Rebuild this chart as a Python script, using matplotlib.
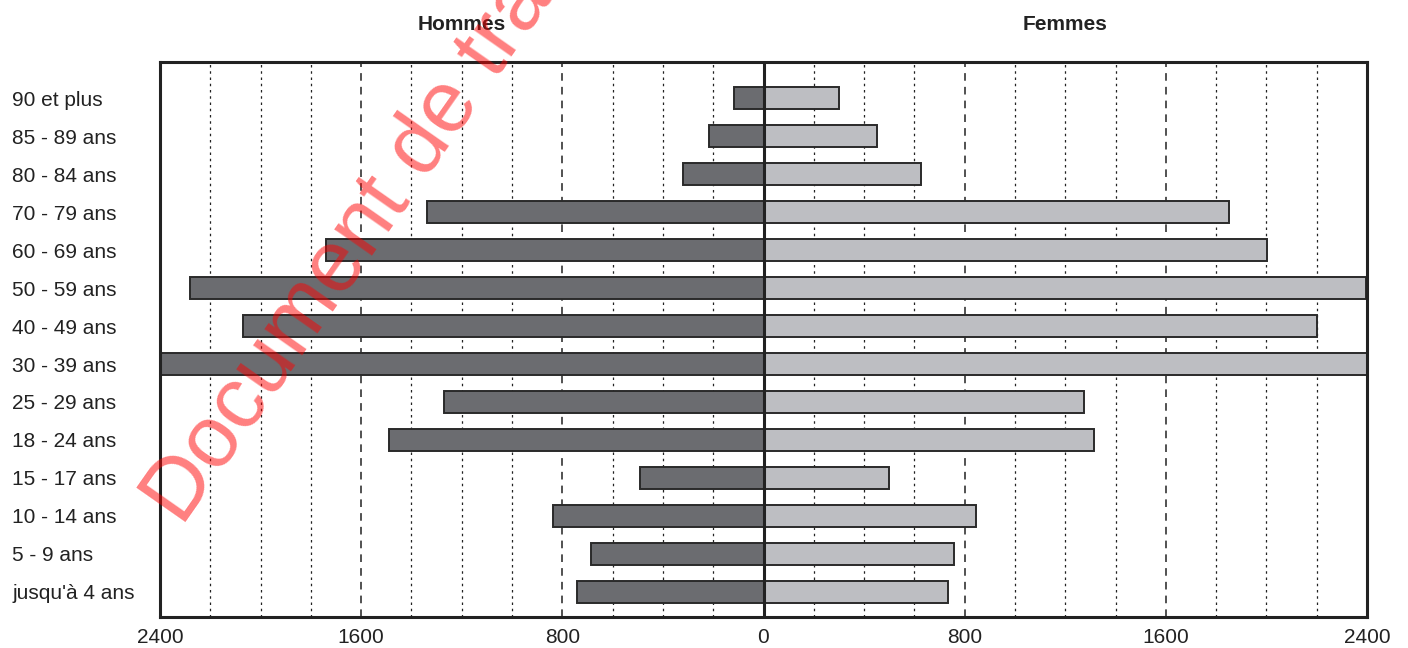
import matplotlib
matplotlib.use("Agg")
import matplotlib.pyplot as plt
import numpy as np

plt.rcParams["font.family"] = ["Liberation Sans", "DejaVu Sans"]

AGE_GROUPS = ["jusqu'à 4 ans", "5 - 9 ans", "10 - 14 ans", "15 - 17 ans", "18 - 24 ans",
              "25 - 29 ans", "30 - 39 ans", "40 - 49 ans", "50 - 59 ans", "60 - 69 ans",
              "70 - 79 ans", "80 - 84 ans", "85 - 89 ans", "90 et plus"]
HOMMES = [740, 685, 836, 490, 1490, 1270, 2396, 2070, 2280, 1740, 1340, 322, 215, 118]
FEMMES = [732, 756, 844, 501, 1313, 1274, 2404, 2202, 2396, 2002, 1851, 625, 450, 299]
X_TICKS = [-2400, -1600, -800, 0, 800, 1600, 2400]
X_TICK_LABELS = ["2400", "1600", "800", "0", "800", "1600", "2400"]
GRID_STEP = 200

fig = plt.figure(figsize=(14.08, 6.48), dpi=100)
ax = fig.add_axes([160 / 1408, 31 / 648, 1207 / 1408, 555 / 648])

y = np.arange(len(AGE_GROUPS))

# grid: dotted every 200, dashed every 800
for gx in np.arange(-2400 + GRID_STEP, 2400, GRID_STEP):
    if gx == 0:
        continue
    if gx % 800 == 0:
        ax.axvline(gx, color="#222222", lw=1.1, dashes=(5, 4), zorder=1)
    else:
        ax.axvline(gx, color="#222222", lw=0.9, dashes=(2, 3), zorder=1)

ax.barh(y, [-v for v in HOMMES], height=0.57, color="#6b6c70", edgecolor="#2a2a2a", lw=1.4, zorder=2)
ax.barh(y, FEMMES, height=0.57, color="#bdbec2", edgecolor="#2a2a2a", lw=1.4, zorder=2)
ax.axvline(0, color="#222222", lw=2.2, zorder=3)

ax.set_xlim(-2400, 2400)
ax.set_ylim(-0.66, 13.95)
ax.set_xticks(X_TICKS)
ax.set_xticklabels(X_TICK_LABELS, fontsize=15, color="#222222")
ax.set_yticks(y)
ax.set_yticklabels(AGE_GROUPS, fontsize=15, color="#222222")
for lab in ax.get_yticklabels():
    lab.set_horizontalalignment("left")
ax.tick_params(axis="y", length=0, pad=106.5)
ax.tick_params(axis="x", length=0, pad=8)
for s in ax.spines.values():
    s.set_linewidth(2.2)
    s.set_color("#222222")
    s.set_zorder(4)

ax.text(-1200, 1.067, "Hommes", transform=ax.get_xaxis_transform(), ha="center", va="center",
        fontsize=15, fontweight="bold", color="#222222")
ax.text(1200, 1.067, "Femmes", transform=ax.get_xaxis_transform(), ha="center", va="center",
        fontsize=15, fontweight="bold", color="#222222")

# watermark
fig.text(182 / 1408, 121 / 648, "Document de travail", fontsize=63, color="red", alpha=0.5,
         rotation=55, rotation_mode="anchor", ha="left", va="baseline", zorder=10)

fig.savefig("out.png", dpi=100)
